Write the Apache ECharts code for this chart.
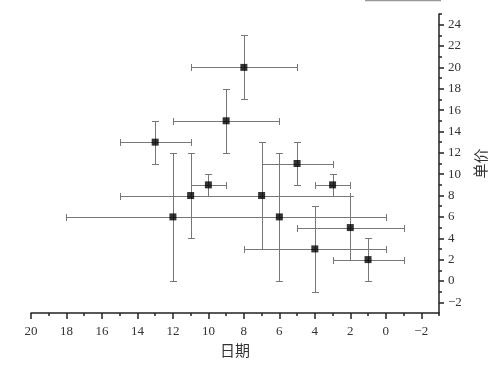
<!DOCTYPE html>
<html><head><meta charset="utf-8">
<script src="https://cdn.jsdelivr.net/npm/echarts@6/dist/echarts.min.js"></script>
<style>html,body{margin:0;padding:0;background:#fff}#c{width:500px;height:366px}</style>
</head><body><div id="c"></div>
<script>
const xValues = [8, 9, 13, 10, 11, 7, 12, 6, 4, 2, 1, 3, 5];
const yValues = [20, 15, 13, 9, 8, 8, 6, 6, 3, 5, 2, 9, 11];
const xErrors = [3, 3, 2, 1, 4, 5, 6, 6, 4, 3, 2, 1, 2];
const yErrors = [3, 3, 2, 1, 4, 5, 6, 6, 4, 3, 2, 1, 2];
const xTickLabels = [20, 18, 16, 14, 12, 10, 8, 6, 4, 2, 0, -2];
const xMinorTicks = [19, 17, 15, 13, 11, 9, 7, 5, 3, 1, -1, -3];
const yTickLabels = [24, 22, 20, 18, 16, 14, 12, 10, 8, 6, 4, 2, 0, -2];
const yMinorTicks = [25, 23, 21, 19, 17, 15, 13, 11, 9, 7, 5, 3, 1, -1];
const xName = '日期';
const yName = '单价';

const chart = echarts.init(document.getElementById('c'), null, {renderer: 'canvas'});
const labelFont = {fontFamily: 'Liberation Serif', fontSize: 13, color: '#333',
  formatter: function (v) { return String(v).replace('-', '\u2212'); }};
const lineStyle = {color: '#222', width: 1.5};

function px(v) { return Math.round(v) + 0.5; }

chart.setOption({
  animation: false,
  backgroundColor: '#fff',
  grid: {left: 31, right: 61, top: 14, bottom: 53},
  xAxis: [{
    type: 'value', min: -3, max: 20, inverse: true, position: 'bottom',
    name: xName, nameLocation: 'middle', nameGap: 29,
    nameTextStyle: {fontFamily: 'Noto Sans CJK SC', fontSize: 15, color: '#333'},
    axisLine: {show: true, onZero: false, lineStyle: lineStyle},
    axisTick: {show: true, length: 6, inside: false, customValues: xTickLabels, lineStyle: lineStyle},
    axisLabel: Object.assign({show: true, margin: 12, customValues: xTickLabels}, labelFont),
    splitLine: {show: false}
  }, {
    type: 'value', min: -3, max: 20, inverse: true, position: 'bottom',
    axisLine: {show: false, onZero: false},
    axisTick: {show: true, length: 3, inside: false, customValues: xMinorTicks, lineStyle: lineStyle},
    axisLabel: {show: false},
    splitLine: {show: false}
  }],
  yAxis: [{
    type: 'value', min: -3, max: 25, position: 'right',
    name: yName, nameLocation: 'middle', nameGap: 27, nameRotate: 90,
    nameTextStyle: {fontFamily: 'Noto Sans CJK SC', fontSize: 15, color: '#333'},
    axisLine: {show: true, onZero: false, lineStyle: lineStyle},
    axisTick: {show: true, length: 5, inside: false, customValues: yTickLabels, lineStyle: lineStyle},
    axisLabel: Object.assign({show: true, margin: 9, customValues: yTickLabels}, labelFont),
    splitLine: {show: false}
  }, {
    type: 'value', min: -3, max: 25, position: 'right',
    axisLine: {show: false, onZero: false},
    axisTick: {show: true, length: 3, inside: false, customValues: yMinorTicks, lineStyle: lineStyle},
    axisLabel: {show: false},
    splitLine: {show: false}
  }],
  graphic: [{
    type: 'line', shape: {x1: 365, y1: 0.5, x2: 441, y2: 0.5},
    style: {stroke: '#999', lineWidth: 1.5}
  }],
  series: [{
    type: 'custom',
    xAxisIndex: 0, yAxisIndex: 0,
    data: xValues.map((x, i) => [x, yValues[i], xErrors[i], yErrors[i]]),
    encode: {x: 0, y: 1},
    renderItem: function (params, api) {
      const x = api.value(0), y = api.value(1), ex = api.value(2), ey = api.value(3);
      const c = api.coord([x, y]);
      const l = api.coord([x + ex, y]);
      const r = api.coord([x - ex, y]);
      const t = api.coord([x, y + ey]);
      const b = api.coord([x, y - ey]);
      const cap = 3.5;
      const st = {stroke: '#777', lineWidth: 1};
      const cy = px(c[1]), cx = px(c[0]);
      return {type: 'group', children: [
        {type: 'line', shape: {x1: px(l[0]), y1: cy, x2: px(r[0]), y2: cy}, style: st},
        {type: 'line', shape: {x1: px(l[0]), y1: cy - cap, x2: px(l[0]), y2: cy + cap}, style: st},
        {type: 'line', shape: {x1: px(r[0]), y1: cy - cap, x2: px(r[0]), y2: cy + cap}, style: st},
        {type: 'line', shape: {x1: cx, y1: px(t[1]), x2: cx, y2: px(b[1])}, style: st},
        {type: 'line', shape: {x1: cx - cap, y1: px(t[1]), x2: cx + cap, y2: px(t[1])}, style: st},
        {type: 'line', shape: {x1: cx - cap, y1: px(b[1]), x2: cx + cap, y2: px(b[1])}, style: st}
      ]};
    },
    z: 2
  }, {
    type: 'scatter',
    xAxisIndex: 0, yAxisIndex: 0,
    data: xValues.map((x, i) => [x, yValues[i]]),
    symbol: 'rect', symbolSize: 7,
    itemStyle: {color: '#000'},
    z: 3
  }]
});
</script>
</body></html>
